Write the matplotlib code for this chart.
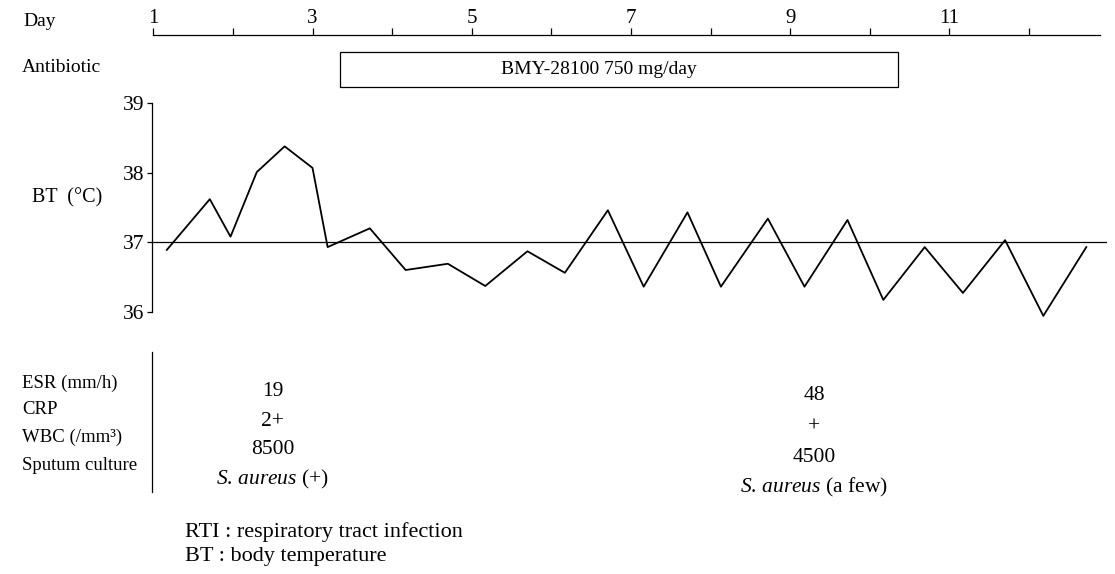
import matplotlib
matplotlib.use("Agg")
import matplotlib.pyplot as plt
from matplotlib.patches import Rectangle

plt.rcParams['font.family'] = 'Liberation Serif'
plt.rcParams['mathtext.fontset'] = 'custom'
plt.rcParams['mathtext.rm'] = 'Liberation Serif'
plt.rcParams['mathtext.it'] = 'Liberation Serif:italic'

# data
bt_day = [1.17, 1.71, 1.97, 2.30, 2.65, 3.00, 3.19, 3.72, 4.17, 4.70, 5.17, 5.70,
          6.17, 6.71, 7.16, 7.71, 8.13, 8.72, 9.18, 9.72, 10.17, 10.69, 11.17,
          11.70, 12.18, 12.72]
bt_temp = [36.89, 37.62, 37.08, 38.01, 38.38, 38.07, 36.93, 37.20, 36.60, 36.69,
           36.37, 36.87, 36.56, 37.46, 36.36, 37.43, 36.36, 37.34, 36.36, 37.32,
           36.17, 36.93, 36.27, 37.03, 35.94, 36.93]
normal_temp = 37

day_major = [1, 3, 5, 7, 9, 11]
day_minor = [2, 4, 6, 8, 10, 12]
bt_ticks = [36, 37, 38, 39]

ab_label = "BMY-28100 750 mg/day"
ab_start = 3.35
ab_end = 10.35

lab_items = ["ESR (mm/h)", "CRP", "WBC (/mm³)", "Sputum culture"]
lab_days = [2.5, 9.3]
lab_values = [["19", "2+", "8500", r"$\mathit{S}$. $\mathit{aureus}$ (+)"],
              ["48", "+", "4500", r"$\mathit{S}$. $\mathit{aureus}$ (a few)"]]
notes = ["RTI : respiratory tract infection", "BT : body temperature"]

W, H = 1115, 574
fig = plt.figure(figsize=(W / 100, H / 100), dpi=100)


def fx(px):
    return px / W


def fy(py):
    return 1 - py / H


x_left, x_right = 151.7, 1107
xlim = (0.98, 12.98)
fs = 14

# body temperature panel
ax = fig.add_axes([fx(x_left), fy(311.7), fx(x_right - x_left), (311.7 - 103.3) / H])
ax.plot(bt_day, bt_temp, color='black', lw=1.3, clip_on=False)
ax.axhline(normal_temp, color='black', lw=0.9)
ax.set_xlim(*xlim)
ax.set_ylim(36, 39)
for s in ['top', 'right', 'bottom']:
    ax.spines[s].set_visible(False)
ax.spines['left'].set_linewidth(0.9)
ax.set_xticks([])
ax.set_yticks(bt_ticks)
ax.tick_params(axis='y', direction='out', length=3.5, width=0.9, pad=2, labelsize=15.5)

# day axis
axd = fig.add_axes([fx(x_left), fy(45), fx(x_right - x_left), 10 / H])
axd.set_xlim(*xlim)
for s in ['bottom', 'left', 'right']:
    axd.spines[s].set_visible(False)
axd.spines['top'].set_bounds(1, 12.89)
axd.spines['top'].set_linewidth(0.9)
axd.set_yticks([])
axd.xaxis.tick_top()
axd.set_xticks(day_major)
axd.set_xticks(day_minor, minor=True)
axd.tick_params(axis='x', which='both', direction='out', length=5, width=0.9, pad=0,
                labelsize=15)
axd.patch.set_visible(False)

# antibiotic bar
axa = fig.add_axes([fx(x_left), fy(87), fx(x_right - x_left), 35 / H])
axa.set_xlim(*xlim)
axa.set_ylim(0, 1)
axa.axis('off')
axa.add_patch(Rectangle((ab_start, 0), ab_end - ab_start, 1, fill=False,
                        edgecolor='black', lw=0.9, clip_on=False))
axa.text(6.6, 0.5, ab_label, ha='center', va='center', fontsize=fs)

# lab panel
axl = fig.add_axes([fx(x_left), fy(492), fx(x_right - x_left), 140 / H])
axl.set_xlim(*xlim)
axl.set_ylim(492, 352)
for s in ['top', 'right', 'bottom']:
    axl.spines[s].set_visible(False)
axl.spines['left'].set_linewidth(0.9)
axl.set_xticks([])
axl.set_yticks([])
axl.patch.set_visible(False)
value_rows = [[392, 421, 450, 479], [396, 427, 457, 487]]
for d, vals, rows in zip(lab_days, lab_values, value_rows):
    for v, r in zip(vals, rows):
        axl.text(d, r, v, ha='center', va='center', fontsize=15.5)

# row labels
fig.text(fx(23), fy(22), "Day", ha='left', va='center', fontsize=fs)
fig.text(fx(22), fy(68), "Antibiotic", ha='left', va='center', fontsize=fs)
fig.text(fx(32), fy(198), "BT  (°C)", ha='left', va='center', fontsize=14.5)
for item, r in zip(lab_items, [383, 410, 437, 465]):
    fig.text(fx(22), fy(r), item, ha='left', va='center', fontsize=13.5)
for note, r in zip(notes, [532, 557]):
    fig.text(fx(185), fy(r), note, ha='left', va='center', fontsize=16)

fig.savefig("out.png", dpi=100)
